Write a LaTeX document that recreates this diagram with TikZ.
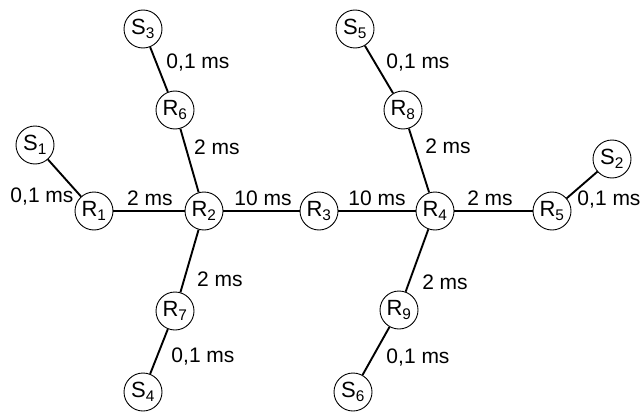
\documentclass[tikz,border=0pt]{standalone}
\usepackage{fontspec}
\setmainfont{Liberation Sans}
\newcommand{\tikzHopNode}[3]{
  \node[draw,line width=0.9pt,fill=white,circle,inner sep=0pt,minimum size=38pt,font=\fontsize{22}{24}\selectfont] (#1) at (#2) {#3};
}

\begin{document}
\begin{tikzpicture}[x=1pt,y=-1pt]
  \tikzset{link/.style={draw,line width=1.9pt},
           delay/.style={font=\fontsize{21}{23}\selectfont,inner sep=0pt}}
  \useasboundingbox (0,0) rectangle (642,412);

  %routers
  \tikzHopNode{r1}{94,211}{R\textsubscript{1}}
  \tikzHopNode{r2}{204,211}{R\textsubscript{2}}
  \tikzHopNode{r3}{319,211}{R\textsubscript{3}}
  \tikzHopNode{r4}{435,211}{R\textsubscript{4}}
  \tikzHopNode{r5}{552,211}{R\textsubscript{5}}
  \tikzHopNode{r6}{175,110}{R\textsubscript{6}}
  \tikzHopNode{r7}{175,311}{R\textsubscript{7}}
  \tikzHopNode{r8}{403,110}{R\textsubscript{8}}
  \tikzHopNode{r9}{399,310}{R\textsubscript{9}}

  %stations
  \tikzHopNode{s1}{35,145}{S\textsubscript{1}}
  \tikzHopNode{s2}{612,159}{S\textsubscript{2}}
  \tikzHopNode{s3}{143,29}{S\textsubscript{3}}
  \tikzHopNode{s4}{143,392}{S\textsubscript{4}}
  \tikzHopNode{s5}{355,29}{S\textsubscript{5}}
  \tikzHopNode{s6}{353,392}{S\textsubscript{6}}

  %backbone
  \path[link] (r1) -- (r2);
  \path[link] (r2) -- (r3);
  \path[link] (r3) -- (r4);
  \path[link] (r4) -- (r5);
  \node[delay] (d12) at (150,198) {2 ms};
  \node[delay] (d23) at (263,198) {10 ms};
  \node[delay] (d34) at (377,198) {10 ms};
  \node[delay] (d45) at (490,198) {2 ms};

  %branches
  \path[link] (r2) -- (r6);
  \path[link] (r2) -- (r7);
  \path[link] (r4) -- (r8);
  \path[link] (r4) -- (r9);
  \node[delay] (d26) at (217,147) {2 ms};
  \node[delay] (d27) at (220,279) {2 ms};
  \node[delay] (d48) at (448,146) {2 ms};
  \node[delay] (d49) at (445,282) {2 ms};

  %access links
  \path[link] (s1) -- (r1);
  \path[link] (s2) -- (r5);
  \path[link] (s3) -- (r6);
  \path[link] (s4) -- (r7);
  \path[link] (s5) -- (r8);
  \path[link] (s6) -- (r9);
  \node[delay] (a1) at (42,197) {0,1 ms};
  \node[delay] (a2) at (609,200) {0,1 ms};
  \node[delay] (a3) at (198,63) {0,1 ms};
  \node[delay] (a4) at (203,357) {0,1 ms};
  \node[delay] (a5) at (418,63) {0,1 ms};
  \node[delay] (a6) at (418,358) {0,1 ms};

\end{tikzpicture}
\end{document}
